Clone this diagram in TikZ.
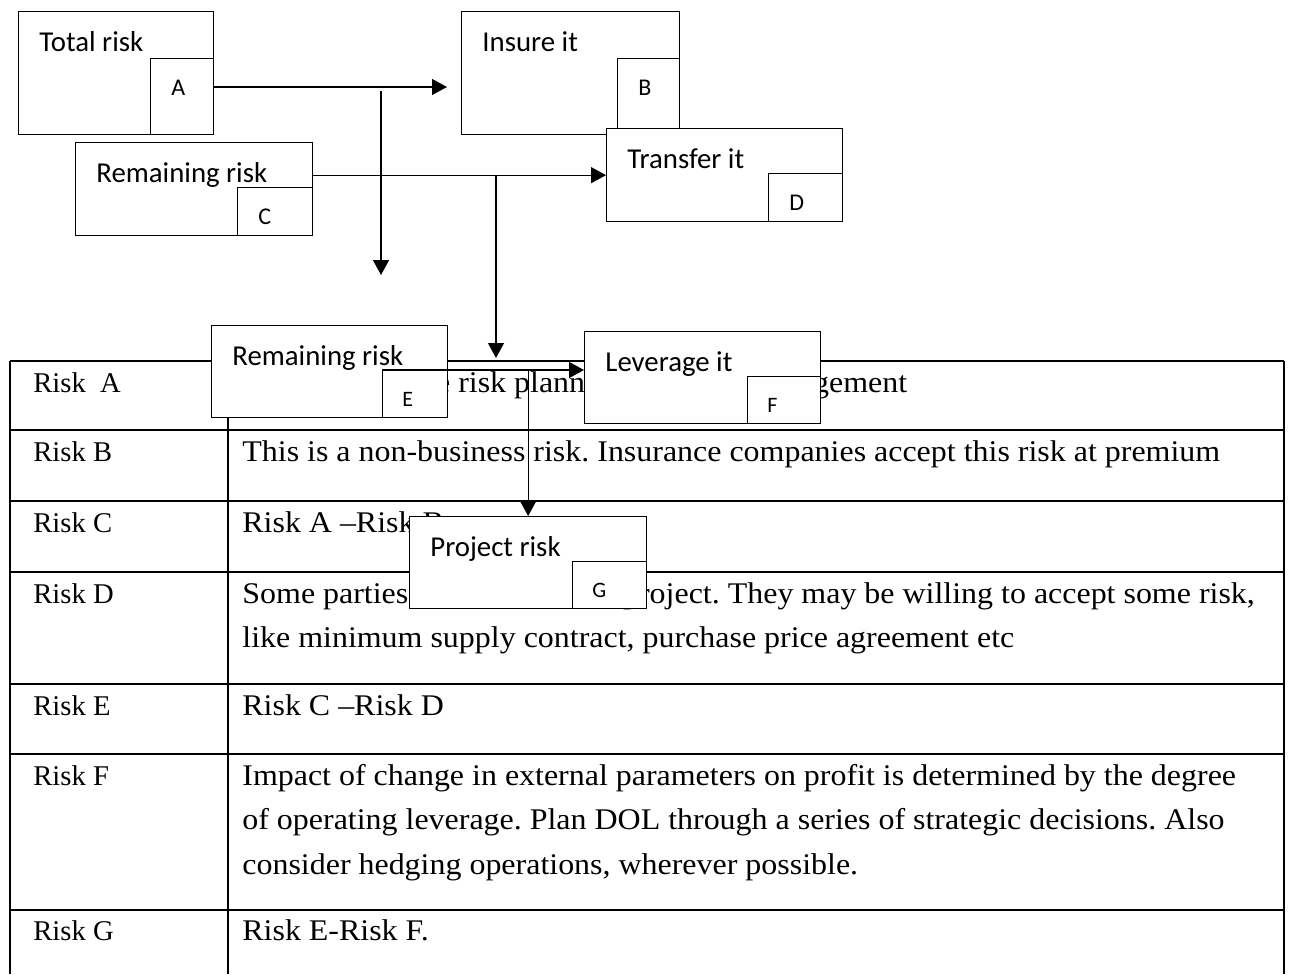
\documentclass[tikz,border=0pt]{standalone}
\usepackage{fontspec}
\setmainfont{Liberation Serif}
\newfontfamily\cellfont[FakeStretch=1.065, Ligatures=TeX]{Liberation Serif}
\newfontfamily\boxfont{Carlito}
\usetikzlibrary{arrows.meta, positioning}
\definecolor{mainBlack}{gray}{0.0}
\frenchspacing

\begin{document}
\begin{tikzpicture}[x=0.5pt, y=-0.5pt, >={Triangle[length=7.5pt, width=8pt]},
    riskbox/.style={draw=mainBlack, fill=white, line width=0.65pt, inner sep=0pt, anchor=north west},
    boxtext/.style={anchor=north west, inner sep=0pt, xshift=10.5pt, yshift=-10pt, font=\boxfont\fontsize{14.4}{17}\selectfont},
    tag/.style={draw=mainBlack, fill=white, line width=0.65pt, inner sep=0pt, anchor=south east},
    tagtext/.style={anchor=north west, inner sep=0pt, xshift=10.5pt, yshift=-11pt, font=\boxfont\fontsize{12}{14}\selectfont},
    tagsmall/.style={tagtext, xshift=-0.5pt, font=\boxfont\fontsize{11}{13}\selectfont},
    flow/.style={->, line width=0.65pt, mainBlack},
    tabline/.style={line width=0.75pt, mainBlack},
    cell/.style={anchor=base west, inner sep=0pt, font=\fontsize{14.3}{22.25}\selectfont},
    note/.style={anchor=base west, inner sep=0pt, align=left, font=\cellfont\fontsize{15}{22.25}\selectfont}]
    \useasboundingbox (0,0) rectangle (1293,974);

    % table
    \foreach \y in {361,430,501,572,684,754,910}
        \draw[tabline] (10,\y) -- (1284,\y);
    \foreach \x in {10,228,1284}
        \draw[tabline] (\x,361) -- (\x,974);
    \node[cell] (kA) at (33,392) {Risk\ \ A};
    \foreach \y/\k in {461/B,532/C,603/D,715/E,785/F,940/G}
        \node[cell] (k\k) at (33,\y) {Risk \k};
    \node[note] (vA) at (242,392) {Ensure effective risk planning and risk management};
    \node[note] (vB) at (242,461) {This is a non-business risk. Insurance companies accept this risk at premium};
    \node[note] (vC) at (242,532) {Risk A --Risk B};
    \node[note] (vD) at (242,647.5) {Some parties involved in this project. They may be willing to accept some risk,\\like minimum supply contract, purchase price agreement etc}; % base = last line
    \node[note] (vE) at (242,715) {Risk C --Risk D};
    \node[note] (vF) at (242,874) {Impact of change in external parameters on profit is determined by the degree\\of operating leverage. Plan DOL through a series of strategic decisions. Also\\consider hedging operations, wherever possible.};
    \node[note] (vG) at (242,940) {Risk E-Risk F.};

    % boxes
    \node[riskbox, minimum width=97.5pt, minimum height=61.5pt, label={[boxtext]north west:Total risk}] (tot) at (18,11) {};
    \node[tag, minimum width=31.5pt, minimum height=38pt, label={[tagtext]north west:A}] (tagA) at (tot.south east) {};
    \node[riskbox, minimum width=109pt, minimum height=61.5pt, label={[boxtext]north west:Insure it}] (ins) at (461,11) {};
    \node[tag, minimum width=31pt, minimum height=38pt, label={[tagtext]north west:B}] (tagB) at (ins.south east) {};
    \node[riskbox, minimum width=118.5pt, minimum height=46.5pt, label={[boxtext]north west:Remaining risk}] (remC) at (75,142) {};
    \node[tag, minimum width=37.5pt, minimum height=24pt, label={[tagtext]north west:C}] (tagC) at (remC.south east) {};
    \node[riskbox, minimum width=118pt, minimum height=46.5pt, label={[boxtext]north west:Transfer it}] (trans) at (606,128) {};
    \node[tag, minimum width=37pt, minimum height=24pt, label={[tagtext]north west:D}] (tagD) at (trans.south east) {};
    \node[riskbox, minimum width=118pt, minimum height=46pt, label={[boxtext]north west:Remaining risk}] (remE) at (211,325) {};
    \node[tag, minimum width=32.5pt, minimum height=23.5pt, label={[tagsmall]north west:E}] (tagE) at (remE.south east) {};
    \node[riskbox, minimum width=118pt, minimum height=46pt, label={[boxtext]north west:Leverage it}] (lev) at (584,331) {};
    \node[tag, minimum width=36.5pt, minimum height=23.5pt, label={[tagsmall]north west:F}] (tagF) at (lev.south east) {};
    \node[riskbox, minimum width=118.5pt, minimum height=46pt, label={[boxtext]north west:Project risk}] (proj) at (409,516) {};
    \node[tag, minimum width=37pt, minimum height=23.5pt, label={[tagsmall]north west:G}] (tagG) at (proj.south east) {};

    % connectors
    \coordinate (jA) at (381,87);
    \coordinate (dropA) at (381,275); % open end
    \coordinate (dropC) at (496,358); % open end
    \draw[flow, shorten >=7pt] (tot.east |- jA) -- (ins.west |- jA);
    \draw[flow] ([yshift=-2pt]jA) -- (dropA);
    \draw[flow] (remC.east |- trans.west) -- (trans.west);
    \draw[flow] (trans.west -| dropC) -- (dropC);
    \draw[flow] (tagE.north west) -- (lev.west |- tagE.north);
    \draw[flow] (proj.north |- tagE.north) -- (proj.north);
\end{tikzpicture}
\end{document}
